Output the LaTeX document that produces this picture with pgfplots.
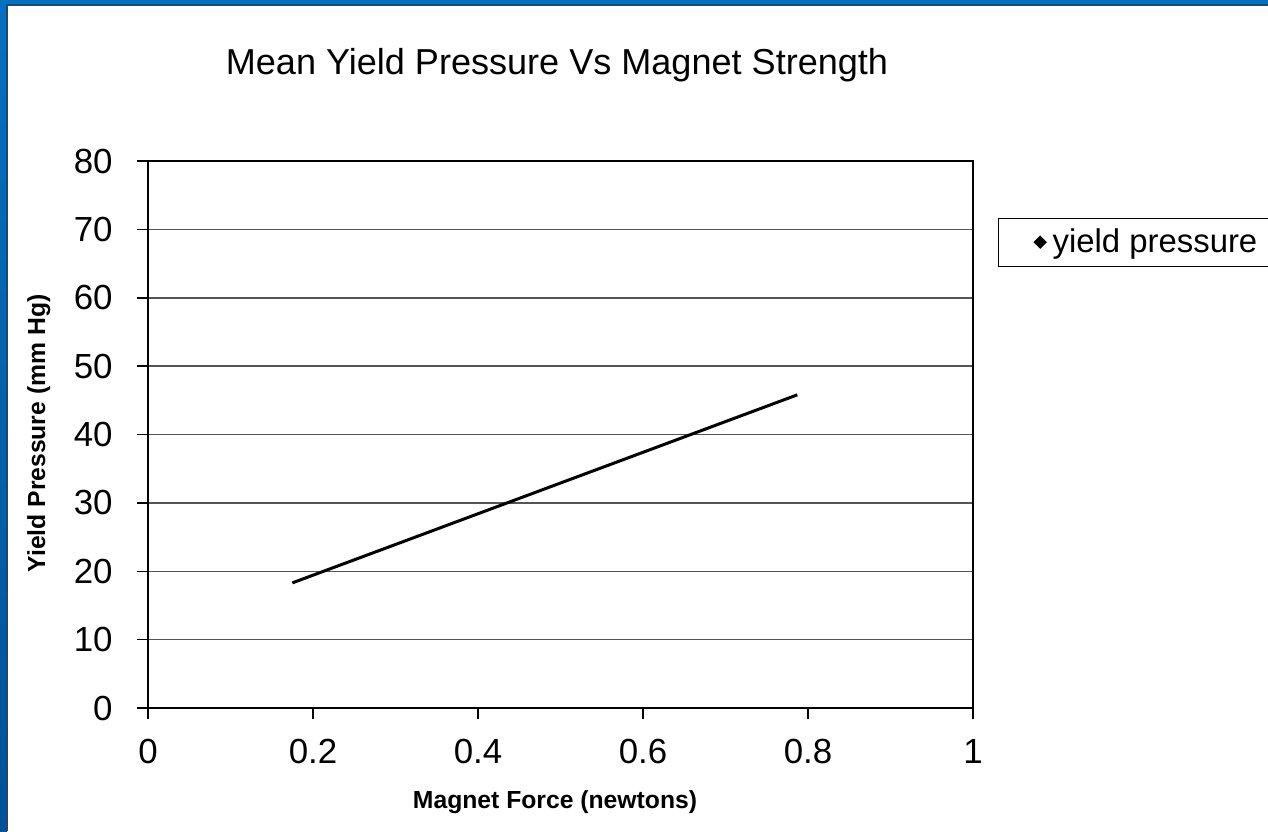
\documentclass[border=0pt]{standalone}
\usepackage{fontspec}
\setmainfont{Liberation Sans}
\usepackage{pgfplots}
\pgfplotsset{compat=1.18}
\definecolor{bluetop}{RGB}{8,112,192}
\definecolor{bluebot}{RGB}{0,82,152}
\definecolor{gridgray}{RGB}{85,85,85}
\begin{document}
\begin{tikzpicture}[x=1bp,y=1bp]
\useasboundingbox (0,0) rectangle (634,415.5);
\fill[white] (0,0) rectangle (634,415.5);
\shade[top color=bluetop, bottom color=bluebot] (0,0) rectangle (3.5,415.5);
\fill[bluetop] (0,413) rectangle (634,415.5);
\draw[black!75, line width=0.6bp] (3.5,0) -- (3.5,413) -- (634,413);
\begin{axis}[
  at={(74bp,61.5bp)}, anchor=south west,
  scale only axis, width=412.5bp, height=273.5bp,
  xmin=0, xmax=1, ymin=0, ymax=80,
  xtick={0,0.2,0.4,0.6,0.8,1},
  xticklabels={0,0.2,0.4,0.6,0.8,1},
  ytick={0,10,20,30,40,50,60,70,80},
  yticklabels={0,10,20,30,40,50,60,70,80},
  tick pos=left, tick align=outside, major tick length=5.5bp,
  tick style={black, line width=0.75bp},
  axis line style={black, line width=0.75bp},
  ymajorgrids, major grid style={gridgray, line width=0.75bp},
  ticklabel style={font=\fontsize{17.5}{20}\selectfont},
  yticklabel style={anchor=east, inner sep=0pt, xshift=-12bp},
  xticklabel style={anchor=north, inner sep=0pt, yshift=-10bp},
  legend style={at={(rel axis cs:1.0305,0.896)}, anchor=north west,
    draw=black, line width=0.5bp, inner xsep=3.5bp, inner ysep=0pt,
    nodes={inner ysep=5.2bp},
    font=\fontsize{16.5}{18}\selectfont},
  legend cell align=left,
  legend image code/.code={
    \path (-16.5bp,0) (3.5bp,0);
    \fill[black] (0,2.3bp) -- (2.3bp,0) -- (0,-2.3bp) -- (-2.3bp,0) -- cycle;
  },
]
\addplot[black, line width=1.5bp, no marks] coordinates {(0.175,18.3) (0.787,45.8)};
\addlegendentry{yield pressure\hspace{12bp}}
\end{axis}
\node[font=\fontsize{18.1}{20}\selectfont] at (278.5,383) {Mean Yield Pressure Vs Magnet Strength};
\node[anchor=base, font=\bfseries\fontsize{12.4}{14}\selectfont] at (277.5,11.5) {Magnet Force (newtons)};
\node[rotate=90, anchor=base, font=\bfseries\fontsize{12.4}{14}\selectfont] at (22.5,198.75) {Yield Pressure (mm Hg)};
\end{tikzpicture}
\end{document}
